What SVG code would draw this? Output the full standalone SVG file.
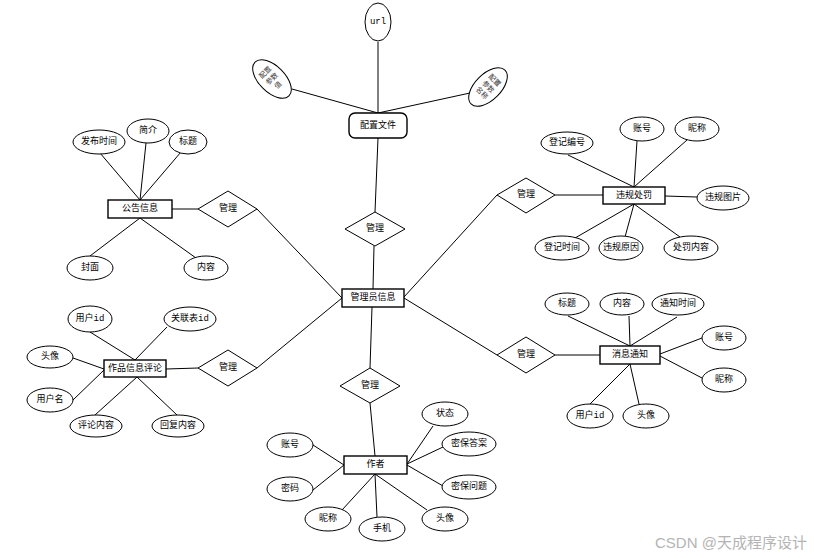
<svg xmlns="http://www.w3.org/2000/svg" width="815" height="559" viewBox="0 0 815 559">
<style>
  .e { fill: #fff; stroke: #000; stroke-width: 1; }
  .r { fill: #fff; stroke: #000; stroke-width: 1.4; }
  .d { fill: #fff; stroke: #000; stroke-width: 1; }
  .l { stroke: #000; stroke-width: 1; fill: none; }
  text { font-family: "Liberation Mono", "Noto Sans CJK SC", monospace; font-size: 9px; fill: #000; text-anchor: middle; dominant-baseline: central; }
  .s { font-size: 7px; fill: #333; }
  .wm { font-family: "Liberation Sans", "Noto Sans CJK SC", sans-serif; font-size: 15px; fill: #b4b4b4; text-anchor: start; dominant-baseline: alphabetic; }
</style>
<rect width="815" height="559" fill="#fff"/>
<g id="connectors">
  <line class="l" x1="378" y1="42" x2="378" y2="113"/>
  <line class="l" x1="292" y1="89" x2="378" y2="113"/>
  <line class="l" x1="470" y1="93" x2="378" y2="113"/>
  <line class="l" x1="378" y1="138" x2="375" y2="212"/>
  <line class="l" x1="374" y1="246" x2="373" y2="289"/>
  <line class="l" x1="100" y1="153" x2="140" y2="200"/>
  <line class="l" x1="146" y1="143" x2="140" y2="200"/>
  <line class="l" x1="181" y1="152" x2="140" y2="200"/>
  <line class="l" x1="140" y1="218" x2="90" y2="256"/>
  <line class="l" x1="140" y1="218" x2="196" y2="258"/>
  <line class="l" x1="172" y1="209" x2="198" y2="209"/>
  <line class="l" x1="257" y1="209" x2="342" y2="298"/>
  <line class="l" x1="568" y1="155" x2="634" y2="187"/>
  <line class="l" x1="637" y1="141" x2="634" y2="187"/>
  <line class="l" x1="687" y1="140" x2="634" y2="187"/>
  <line class="l" x1="634" y1="204" x2="575" y2="238"/>
  <line class="l" x1="634" y1="204" x2="625" y2="237"/>
  <line class="l" x1="634" y1="204" x2="680" y2="237"/>
  <line class="l" x1="665" y1="196" x2="697" y2="197"/>
  <line class="l" x1="555" y1="195" x2="603" y2="195"/>
  <line class="l" x1="497" y1="195" x2="404" y2="297"/>
  <line class="l" x1="90" y1="332" x2="135" y2="360"/>
  <line class="l" x1="167" y1="327" x2="135" y2="360"/>
  <line class="l" x1="73" y1="358" x2="104" y2="369"/>
  <line class="l" x1="73" y1="400" x2="104" y2="370"/>
  <line class="l" x1="95" y1="415" x2="137" y2="377"/>
  <line class="l" x1="177" y1="415" x2="137" y2="377"/>
  <line class="l" x1="166" y1="369" x2="198" y2="368"/>
  <line class="l" x1="257" y1="368" x2="342" y2="298"/>
  <line class="l" x1="568" y1="316" x2="630" y2="346"/>
  <line class="l" x1="629" y1="316" x2="630" y2="346"/>
  <line class="l" x1="677" y1="317" x2="630" y2="346"/>
  <line class="l" x1="702" y1="338" x2="660" y2="354"/>
  <line class="l" x1="702" y1="378" x2="660" y2="356"/>
  <line class="l" x1="590" y1="404" x2="630" y2="364"/>
  <line class="l" x1="639" y1="404" x2="630" y2="364"/>
  <line class="l" x1="555" y1="355" x2="600" y2="355"/>
  <line class="l" x1="497" y1="355" x2="404" y2="298"/>
  <line class="l" x1="372" y1="307" x2="370" y2="368"/>
  <line class="l" x1="370" y1="403" x2="375" y2="456"/>
  <line class="l" x1="313" y1="445" x2="344" y2="465"/>
  <line class="l" x1="313" y1="490" x2="344" y2="465"/>
  <line class="l" x1="342" y1="510" x2="375" y2="474"/>
  <line class="l" x1="377" y1="517" x2="375" y2="474"/>
  <line class="l" x1="427" y1="510" x2="375" y2="474"/>
  <line class="l" x1="433" y1="426" x2="407" y2="464"/>
  <line class="l" x1="443" y1="447" x2="407" y2="464"/>
  <line class="l" x1="443" y1="486" x2="407" y2="465"/>
</g>
<g id="url"><ellipse class="e" cx="378" cy="22" rx="13" ry="19"/><text x="378" y="22">url</text></g>
<g id="cfg_value" transform="translate(272,79) rotate(-45)"><ellipse class="e" cx="0" cy="0" rx="13" ry="24"/><text class="s" x="0" y="-9">配置</text><text class="s" x="0" y="0">参数</text><text class="s" x="0" y="9">值</text></g>
<g id="cfg_name" transform="translate(488,87) rotate(45)"><ellipse class="e" cx="0" cy="0" rx="13" ry="24"/><text class="s" x="0" y="-9">配置</text><text class="s" x="0" y="0">参数</text><text class="s" x="0" y="9">名称</text></g>
<g id="config"><rect class="r" x="349" y="113" width="58" height="25" rx="6"/><text x="378" y="125.5">配置文件</text></g>
<g id="rel_top"><polygon class="d" points="375,212 405,229 375,246 345,229"/><text x="375" y="229">管理</text></g>
<g id="admin"><rect class="r" x="342" y="289" width="62" height="18"/><text x="373" y="298">管理员信息</text></g>

<g id="notice"><rect class="r" x="108" y="200" width="64" height="18"/><text x="140" y="209">公告信息</text></g>
<g id="n_time"><ellipse class="e" cx="99" cy="142" rx="26" ry="12"/><text x="99" y="142">发布时间</text></g>
<g id="n_intro"><ellipse class="e" cx="148" cy="131" rx="21" ry="12"/><text x="148" y="131">简介</text></g>
<g id="n_title"><ellipse class="e" cx="188" cy="142" rx="19" ry="12"/><text x="188" y="142">标题</text></g>
<g id="n_cover"><ellipse class="e" cx="90" cy="268" rx="23" ry="12"/><text x="90" y="268">封面</text></g>
<g id="n_content"><ellipse class="e" cx="206" cy="268" rx="22" ry="12"/><text x="206" y="268">内容</text></g>
<g id="rel_notice"><polygon class="d" points="228,191 257,209 228,227 198,209"/><text x="228" y="209">管理</text></g>

<g id="violation"><rect class="r" x="603" y="187" width="62" height="17"/><text x="634" y="195.5">违规处罚</text></g>
<g id="v_regno"><ellipse class="e" cx="567" cy="143" rx="26" ry="11"/><text x="567" y="143">登记编号</text></g>
<g id="v_acct"><ellipse class="e" cx="642" cy="129" rx="22" ry="12"/><text x="642" y="129">账号</text></g>
<g id="v_nick"><ellipse class="e" cx="697" cy="129" rx="22" ry="12"/><text x="697" y="129">昵称</text></g>
<g id="v_pic"><ellipse class="e" cx="723" cy="198" rx="26" ry="12"/><text x="723" y="198">违规图片</text></g>
<g id="v_regtime"><ellipse class="e" cx="562" cy="248" rx="27" ry="12"/><text x="562" y="248">登记时间</text></g>
<g id="v_reason"><ellipse class="e" cx="621" cy="248" rx="22" ry="12"/><text x="621" y="248">违规原因</text></g>
<g id="v_penalty"><ellipse class="e" cx="691" cy="248" rx="27" ry="12"/><text x="691" y="248">处罚内容</text></g>
<g id="rel_violation"><polygon class="d" points="526,178 555,195 526,213 497,195"/><text x="526" y="195">管理</text></g>

<g id="comment"><rect class="r" x="104" y="360" width="62" height="17"/><text x="135" y="368.5">作品信息评论</text></g>
<g id="c_uid"><ellipse class="e" cx="90" cy="319" rx="22" ry="13"/><text x="90" y="319">用户id</text></g>
<g id="c_refid"><ellipse class="e" cx="190" cy="319" rx="26" ry="12"/><text x="190" y="319">关联表id</text></g>
<g id="c_avatar"><ellipse class="e" cx="50" cy="357" rx="23" ry="11"/><text x="50" y="357">头像</text></g>
<g id="c_uname"><ellipse class="e" cx="50" cy="400" rx="23" ry="12"/><text x="50" y="400">用户名</text></g>
<g id="c_content"><ellipse class="e" cx="96" cy="426" rx="26" ry="11"/><text x="96" y="426">评论内容</text></g>
<g id="c_reply"><ellipse class="e" cx="178" cy="426" rx="26" ry="11"/><text x="178" y="426">回复内容</text></g>
<g id="rel_comment"><polygon class="d" points="228,350 257,368 228,386 198,368"/><text x="228" y="368">管理</text></g>

<g id="message"><rect class="r" x="600" y="346" width="60" height="18"/><text x="630" y="355">消息通知</text></g>
<g id="m_title"><ellipse class="e" cx="567" cy="304" rx="22" ry="11"/><text x="567" y="304">标题</text></g>
<g id="m_content"><ellipse class="e" cx="622" cy="304" rx="22" ry="11"/><text x="622" y="304">内容</text></g>
<g id="m_time"><ellipse class="e" cx="678" cy="304" rx="26" ry="11"/><text x="678" y="304">通知时间</text></g>
<g id="m_acct"><ellipse class="e" cx="724" cy="338" rx="22" ry="12"/><text x="724" y="338">账号</text></g>
<g id="m_nick"><ellipse class="e" cx="724" cy="380" rx="22" ry="12"/><text x="724" y="380">昵称</text></g>
<g id="m_uid"><ellipse class="e" cx="590" cy="416" rx="23" ry="12"/><text x="590" y="416">用户id</text></g>
<g id="m_avatar"><ellipse class="e" cx="646" cy="416" rx="23" ry="12"/><text x="646" y="416">头像</text></g>
<g id="rel_message"><polygon class="d" points="526,337 555,355 526,373 497,355"/><text x="526" y="355">管理</text></g>

<g id="author"><rect class="r" x="344" y="456" width="63" height="18"/><text x="375.5" y="465">作者</text></g>
<g id="a_status"><ellipse class="e" cx="445" cy="414" rx="23" ry="12"/><text x="445" y="414">状态</text></g>
<g id="a_answer"><ellipse class="e" cx="469" cy="444" rx="27" ry="12"/><text x="469" y="444">密保答案</text></g>
<g id="a_question"><ellipse class="e" cx="469" cy="487" rx="27" ry="12"/><text x="469" y="487">密保问题</text></g>
<g id="a_avatar"><ellipse class="e" cx="445" cy="519" rx="23" ry="12"/><text x="445" y="519">头像</text></g>
<g id="a_phone"><ellipse class="e" cx="382" cy="529" rx="23" ry="12"/><text x="382" y="529">手机</text></g>
<g id="a_nick"><ellipse class="e" cx="328" cy="519" rx="23" ry="12"/><text x="328" y="519">昵称</text></g>
<g id="a_pwd"><ellipse class="e" cx="290" cy="489" rx="23" ry="12"/><text x="290" y="489">密码</text></g>
<g id="a_acct"><ellipse class="e" cx="290" cy="445" rx="23" ry="12"/><text x="290" y="445">账号</text></g>
<g id="rel_author"><polygon class="d" points="370,368 400,386 370,403 340,386"/><text x="370" y="386">管理</text></g>

<text class="wm" x="655" y="548">CSDN @天成程序设计</text>
</svg>
